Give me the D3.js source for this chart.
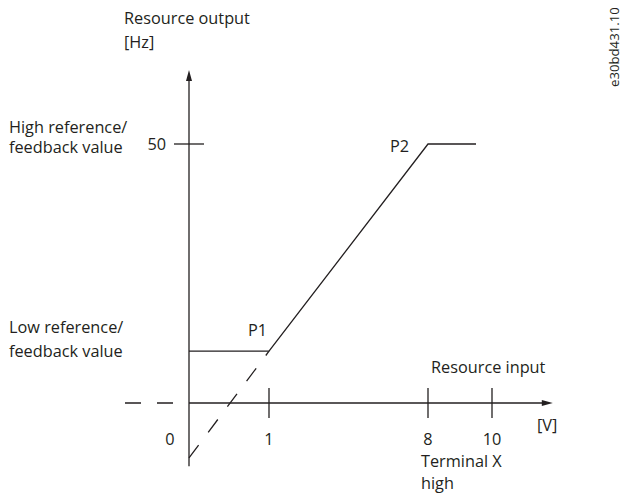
<!DOCTYPE html>
<html><head><meta charset="utf-8">
<script src="https://cdn.jsdelivr.net/npm/d3@7"></script>
<style>
body{margin:0;background:#fff}
text{font-family:"Open Sans",sans-serif;fill:#231f20}
</style>
</head><body><svg id="c" width="625" height="495"></svg>
<script>
// ---- data ----
const xBreaks = [0, 1, 8, 10];             // input voltage breakpoints [V] (schematic, piecewise)
const xTickValues = [1, 8, 10];            // ticks drawn on input axis
const xTickLabels = ["0", "1", "8", "10"]; // labels under input axis
const xLabelValues = [0, 1, 8, 10];
const yTickValues = [50];                  // ticks on output axis [Hz]
const yTickLabels = ["50"];
const lowRef = 10, highRef = 50;           // Hz
const curveV  = [0, 1, 8, 9.5];            // V
const curveHz = [10, 10, 50, 50];          // Hz
const extV  = [0, 1];                      // dashed extension below P1
const extHz = [-10.6, 10];
const negV  = [-0.8, -0.2];                // dashed negative input part
const axisXExtent = [0, 11.9];
const axisYExtent = [-12.2, 64.3];

// ---- scales ----
const svg = d3.select("#c");
const x = d3.scaleLinear().domain(xBreaks).range([189, 269, 428, 492]);
const y = d3.scaleLinear().domain([0, 50]).range([403, 144]);
const ink = "#231f20", sw = 1.3;
const fs = "16.3px";
const line = d3.line().x(d => x(d[0])).y(d => y(d[1]));

// axes
svg.append("line").attr("x1", x(axisXExtent[0])).attr("x2", x(axisXExtent[1]) - 6)
  .attr("y1", y(0)).attr("y2", y(0)).attr("stroke", ink).attr("stroke-width", sw);
svg.append("line").attr("x1", x(0)).attr("x2", x(0))
  .attr("y1", y(axisYExtent[0])).attr("y2", y(axisYExtent[1]) + 6).attr("stroke", ink).attr("stroke-width", sw);
// arrowheads
const ax = x(axisXExtent[1]), ay = y(0);
svg.append("path").attr("d", `M${ax},${ay} L${ax-11},${ay-3} L${ax-11},${ay+3} Z`).attr("fill", ink);
const bx = x(0), by = y(axisYExtent[1]);
svg.append("path").attr("d", `M${bx},${by} L${bx-3},${by+11} L${bx+3},${by+11} Z`).attr("fill", ink);

// dashed negative-input piece
svg.append("path").attr("d", line(negV.map(v => [v, 0])))
  .attr("stroke", ink).attr("stroke-width", sw).attr("fill","none").attr("stroke-dasharray","16,16");

// ticks
svg.selectAll(".xt").data(xTickValues).join("line")
  .attr("x1", d => x(d)).attr("x2", d => x(d)).attr("y1", y(0) - 15).attr("y2", y(0) + 15)
  .attr("stroke", ink).attr("stroke-width", sw);
svg.selectAll(".yt").data(yTickValues).join("line")
  .attr("x1", x(0) - 15).attr("x2", x(0) + 15).attr("y1", d => y(d)).attr("y2", d => y(d))
  .attr("stroke", ink).attr("stroke-width", sw);

// curve
svg.append("path").attr("d", line(curveV.map((v,i)=>[v, curveHz[i]])))
  .attr("stroke", ink).attr("stroke-width", sw).attr("fill","none");
// dashed extension (drawn from bottom upward)
svg.append("path").attr("d", line(extV.map((v,i)=>[v, extHz[i]])))
  .attr("stroke", ink).attr("stroke-width", sw).attr("fill","none").attr("stroke-dasharray","16,16");

// tick labels
svg.selectAll(".xl").data(xLabelValues).join("text")
  .attr("x", d => d === 0 ? x(d) - 19 : x(d)).attr("y", 445)
  .attr("text-anchor","middle").style("font-size", fs)
  .text((d,i) => xTickLabels[i]);
svg.selectAll(".yl").data(yTickValues).join("text")
  .attr("x", x(0) - 23).attr("y", d => y(d) + 6)
  .attr("text-anchor","end").style("font-size", fs)
  .text((d,i) => yTickLabels[i]);

// point labels
svg.append("text").attr("x", x(1) - 2).attr("y", y(lowRef) - 15).attr("text-anchor","end").style("font-size", fs).text("P1");
svg.append("text").attr("x", x(8) - 19).attr("y", y(highRef) + 8).attr("text-anchor","end").style("font-size", fs).text("P2");

// annotations
function multi(xp, yp, lines, lh, anchor) {
  const t = svg.append("text").attr("x", xp).attr("y", yp).style("font-size", fs).attr("text-anchor", anchor || "start");
  lines.forEach((s, i) => t.append("tspan").attr("x", xp).attr("dy", i ? lh : 0).text(s));
}
multi(124, 24, ["Resource output", "[Hz]"], 24);
multi(9, 133, ["High reference/", "feedback value"], 20);
multi(9, 333, ["Low reference/", "feedback value"], 24);
multi(431, 373, ["Resource input"], 20);
multi(537, 431, ["[V]"], 20);
multi(421, 467, ["Terminal X", "high"], 22);

svg.append("text").attr("transform", "translate(619,87) rotate(-90)")
  .style("font-size", "13.2px").text("e30bd431.10");
</script>
</body></html>
